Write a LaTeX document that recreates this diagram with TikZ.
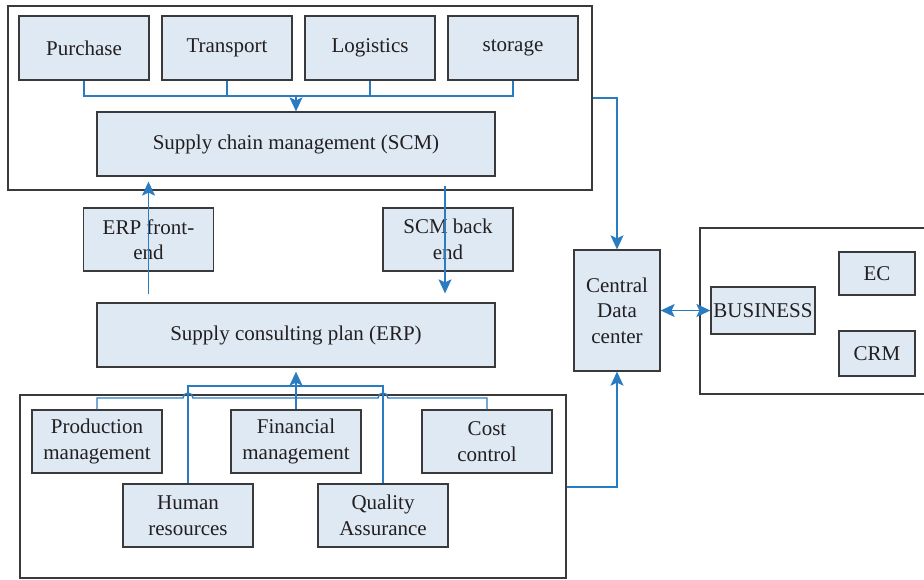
\documentclass[tikz,border=0pt]{standalone}
\usepackage{fontspec}
\setmainfont{Liberation Serif}
\usetikzlibrary{arrows.meta,calc}
\definecolor{boxfill}{HTML}{DEE9F4}
\definecolor{boxline}{HTML}{3A3A3A}
\definecolor{conblue}{HTML}{2B7BC0}
\definecolor{txt}{HTML}{231F20}
\begin{document}
\begin{tikzpicture}[x=1pt,y=-1pt,
  box/.style={draw=boxline,fill=boxfill,line width=1.3pt,align=center,inner sep=0pt,
    font=\fontsize{21}{25.5}\selectfont,text=txt},
  cont/.style={draw=boxline,line width=1.3pt,inner sep=0pt},
  conn/.style={draw=conblue,line width=1.4pt},
  arr/.style={conn,-{Stealth[length=14pt,width=13pt,inset=3pt]}},
  darr/.style={conn,{Stealth[length=14pt,width=13pt,inset=3pt]}-{Stealth[length=14pt,width=13pt,inset=3pt]}}]
\useasboundingbox (0,0) rectangle (924,580);
% containers
\node[cont,minimum width=584pt,minimum height=184pt] (topc) at (300,98) {};
\node[cont,minimum width=546pt,minimum height=183pt] (botc) at (293,486.5) {};
\node[cont,minimum width=240pt,minimum height=166pt] (rightc) at (820,311) {};
% top boxes
\node[box,minimum width=130pt,minimum height=64pt] (purchase) at (84,48) {Purchase};
\node[box,minimum width=130pt,minimum height=64pt] (transport) at (227,48) {Transport};
\node[box,minimum width=130pt,minimum height=64pt] (logistics) at (370,48) {Logistics};
\node[box,minimum width=130pt,minimum height=64pt] (storage) at (513,48) {storage};
\node[box,minimum width=398pt,minimum height=64pt] (scm) at (296,144) {Supply chain management (SCM)};
% middle
\node[box,minimum width=130pt,minimum height=63pt] (erpfe) at (148.5,239.5) {ERP front-\\end};
\node[box,minimum width=130pt,minimum height=63pt] (scmbe) at (448,239.5) {SCM back\\end};
\node[box,minimum width=398pt,minimum height=64pt] (erp) at (296,335) {Supply consulting plan (ERP)};
% bottom boxes
\node[box,minimum width=130pt,minimum height=63pt] (prod) at (97,441.5) {Production\\management};
\node[box,minimum width=130pt,minimum height=63pt] (fin) at (296,441.5) {Financial\\management};
\node[box,minimum width=130pt,minimum height=63pt] (cost) at (487,441.5) {Cost\\control};
\node[box,minimum width=130pt,minimum height=63pt] (hr) at (188,515.5) {Human\\resources};
\node[box,minimum width=130pt,minimum height=63pt] (qa) at (383,515.5) {Quality\\Assurance};
% right
\node[box,minimum width=86pt,minimum height=121pt] (cdc) at (617,310.5) {Central\\Data\\center};
\node[box,minimum width=104pt,minimum height=47pt] (business) at (763,310.5) {BUSINESS};
\node[box,minimum width=76pt,minimum height=43pt] (ec) at (877,273.5) {EC};
\node[box,minimum width=76pt,minimum height=45pt] (crm) at (877,353.5) {CRM};
% top connectors
\coordinate (bus) at (296,96);
\draw[conn] (purchase.south) |- (bus);
\draw[conn] (transport.south) |- (bus);
\draw[conn] (logistics.south) |- (bus);
\draw[conn] (storage.south) |- (bus);
\draw[arr] (bus) -- (scm.north);
% middle arrows
\draw[arr,shorten <=8pt,shorten >=5pt] (erpfe.center |- erp.north) -- (erpfe.center |- scm.south);
\coordinate (sb) at ($(scmbe.center)+(-3,0)$);
\draw[arr,shorten <=9pt,shorten >=9pt] (sb |- scm.south) -- (sb |- erp.north);
% bottom connectors
\coordinate (hop1) at (hr.north |- 0,398);
\coordinate (hop2) at (qa.north |- 0,398);
\draw[conn] (prod.north) |- ($(hop1)+(-5,0)$) arc (180:360:5) -- ($(hop2)+(-5,0)$) arc (180:360:5) -| (cost.north);
\draw[conn] (hr.north) |- (qa.north |- 0,386) -- (qa.north);
\draw[arr,line width=1.8pt,shorten >=4pt] (fin.north) -- (erp.south);
% right connectors
\draw[arr] (topc.east |- 0,98) -| (cdc.north);
\draw[arr] (botc.east |- 0,487) -| (cdc.south);
\draw[darr] (cdc.east) -- (business.west);
\end{tikzpicture}
\end{document}
